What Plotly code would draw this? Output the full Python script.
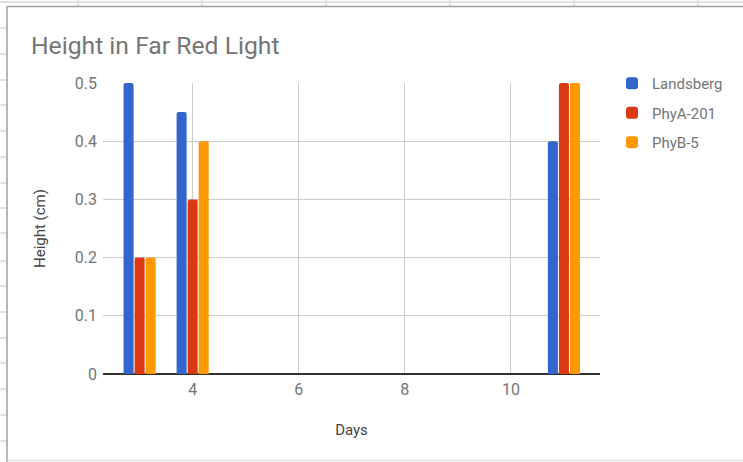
import plotly.graph_objects as go

days = [3, 4, 11]
landsberg = [0.5, 0.45, 0.4]
phya_201 = [0.2, 0.3, 0.5]
phyb_5 = [0.2, 0.4, 0.5]
series_names = ["Landsberg", "PhyA-201", "PhyB-5"]
colors = ["#3366cc", "#dc3912", "#ff9900"]

W, H = 743, 462
ML, MR, MT, MB = 103, 143, 83, 88
PW, PH = W - ML - MR, H - MT - MB


def px(x):
    return (x - ML) / PW


def py(y):
    return 1 - (y - MT) / PH


fig = go.Figure()
for name, vals, col in zip(series_names, [landsberg, phya_201, phyb_5], colors):
    fig.add_trace(go.Bar(x=days, y=vals, name=name, legendgroup=name,
                         marker=dict(color=col, line=dict(width=0), cornerradius=2)))

shapes = []
grid_col = "#d9d9d9"
# spreadsheet background: top strip
shapes.append(dict(type="line", xref="paper", yref="paper", x0=px(0), x1=px(W), y0=py(2), y1=py(2),
                   line=dict(color=grid_col, width=1.5), layer="below"))
for gx in [78, 202, 326, 450, 574, 698]:
    shapes.append(dict(type="line", xref="paper", yref="paper", x0=px(gx), x1=px(gx), y0=py(0), y1=py(6),
                       line=dict(color=grid_col, width=1.5), layer="below"))
for gy in [28, 54, 80, 105, 131, 157, 183, 208, 233, 261, 286, 312, 338, 363, 389, 415, 441]:
    shapes.append(dict(type="line", xref="paper", yref="paper", x0=px(0), x1=px(7), y0=py(gy), y1=py(gy),
                       line=dict(color=grid_col, width=1.5), layer="below"))
# chart box border
shapes.append(dict(type="line", xref="paper", yref="paper", x0=px(7), x1=px(W), y0=py(6.5), y1=py(6.5),
                   line=dict(color="#9e9e9e", width=1.5)))
shapes.append(dict(type="line", xref="paper", yref="paper", x0=px(7), x1=px(7), y0=py(6.5), y1=py(H),
                   line=dict(color="#9e9e9e", width=1.5)))
shapes.append(dict(type="line", xref="paper", yref="paper", x0=px(7), x1=px(W), y0=py(460.5), y1=py(460.5),
                   line=dict(color="#e0e0e0", width=1.5)))

fig.update_layout(
    width=W, height=H,
    margin=dict(l=ML, r=MR, t=MT, b=MB),
    paper_bgcolor="white", plot_bgcolor="white",
    font=dict(family="Roboto, Arial, sans-serif", size=15, color="#757575"),
    title=dict(text="Height in Far Red Light", x=31 / W, xref="container", xanchor="left",
               y=1 - 45 / H, yref="container", yanchor="middle", font=dict(size=24.7, color="#757575")),
    barmode="group", bargap=0.376, bargroupgap=0.09,
    showlegend=True,
    legend=dict(x=px(612), y=py(67), xanchor="left", yanchor="top", tracegroupgap=7,
                font=dict(size=15, color="#757575"), bgcolor="rgba(0,0,0,0)",
                itemwidth=30),
    shapes=shapes,
    xaxis=dict(range=[2.31, 11.68], tickmode="array", tickvals=[4, 6, 8, 10],
               showgrid=True, gridcolor="#cccccc", gridwidth=1, zeroline=False,
               showline=False, ticks="", tickfont=dict(size=16, color="#757575"),
               ticklabelstandoff=4,
               title=dict(text="Days", font=dict(size=15, color="#444444"), standoff=26)),
    yaxis=dict(range=[0, 0.5], tickvals=[0, 0.1, 0.2, 0.3, 0.4, 0.5],
               ticktext=["0", "0.1", "0.2", "0.3", "0.4", "0.5"],
               showgrid=True, gridcolor="#cccccc", gridwidth=1,
               zeroline=True, zerolinecolor="#333333", zerolinewidth=1.5,
               showline=False, ticks="", tickfont=dict(size=16, color="#757575"),
               ticklabelstandoff=5,
               title=dict(text="Height (cm)", font=dict(size=15, color="#444444"), standoff=25)),
)

fig.write_html("out.html", post_script="document.body.style.margin='0';",
               config={"displayModeBar": False})
